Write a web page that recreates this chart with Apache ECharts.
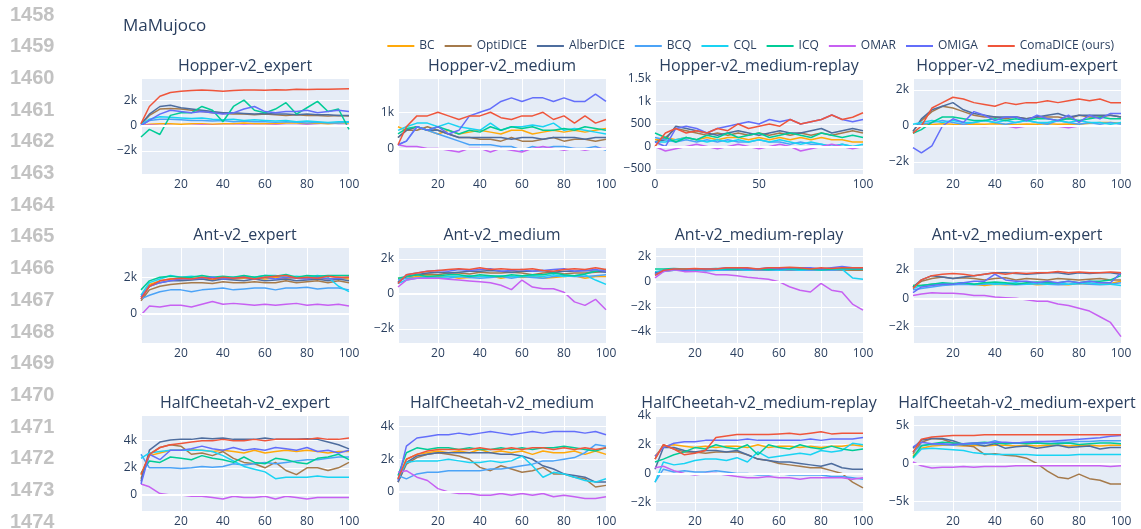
<!DOCTYPE html>
<html><head><meta charset="utf-8">
<script src="https://cdn.jsdelivr.net/npm/echarts@6/dist/echarts.min.js"></script>
<style>html,body{margin:0;padding:0;background:#fff}#c{width:1141px;height:529px}</style>
</head><body><div id="c"></div><script>
// ---------- data ----------
const METHODS = ['BC','OptiDICE','AlberDICE','BCQ','CQL','ICQ','OMAR','OMIGA','ComaDICE (ours)'];
const COLORS = ['#FFA90A','#A57A4B','#4E6D9E','#4BA3F7','#19D3F3','#00CC96','#C760F2','#636EFA','#EF553B'];
const PANEL_TITLES = ['Hopper-v2_expert','Hopper-v2_medium','Hopper-v2_medium-replay','Hopper-v2_medium-expert',
  'Ant-v2_expert','Ant-v2_medium','Ant-v2_medium-replay','Ant-v2_medium-expert',
  'HalfCheetah-v2_expert','HalfCheetah-v2_medium','HalfCheetah-v2_medium-replay','HalfCheetah-v2_medium-expert'];
const LINE_NUMBERS = [1458,1459,1460,1461,1462,1463,1464,1465,1466,1467,1468,1469,1470,1471,1472,1473,1474];
const STEPS = [1,5,10,15,20,25,30,35,40,45,50,55,60,65,70,75,80,85,90,95,100];
const STEPS_FROM0 = [0,5,10,15,20,25,30,35,40,45,50,55,60,65,70,75,80,85,90,95,100];

// rows: BC, OptiDICE, AlberDICE, BCQ, CQL, ICQ, OMAR, OMIGA, ComaDICE
const hopperExpert = [
  [0,100,150,150,100,150,150,100,150,150,200,150,150,150,200,200,150,200,150,200,200],
  [100,800,1300,1350,1300,1200,1100,1000,950,900,900,850,900,850,800,850,800,800,750,800,750],
  [100,900,1500,1600,1400,1300,1200,1100,1000,1000,950,900,950,900,900,850,900,850,850,800,800],
  [0,400,500,500,450,400,400,350,400,300,350,300,300,250,300,250,200,250,200,200,250],
  [50,500,700,650,600,550,600,500,450,500,400,450,400,350,400,300,350,300,250,300,300],
  [-900,-300,-700,800,1000,1000,1500,1200,300,1500,2000,1200,1000,1300,1800,900,1400,1900,1100,1300,-300],
  [0,50,0,0,-50,0,50,0,0,0,50,0,0,50,0,0,50,0,-50,0,0],
  [0,400,900,1200,1100,1000,1100,1000,900,1000,1300,1500,1100,1000,1100,1100,1200,1000,1100,1200,1100],
  [150,1500,2300,2600,2700,2750,2800,2750,2700,2750,2800,2800,2780,2820,2800,2850,2830,2860,2850,2880,2900]
];
const hopperMedium = [
  [600,500,600,500,400,500,400,450,500,450,400,500,500,400,450,500,450,500,450,500,550],
  [300,500,500,600,500,400,300,300,250,250,200,300,200,200,250,300,200,250,250,200,250],
  [300,500,600,500,500,400,300,300,300,300,300,250,300,300,250,300,300,300,250,300,300],
  [100,200,600,500,400,300,200,100,100,100,50,50,-50,50,0,50,50,0,0,50,-50],
  [500,600,700,700,600,700,600,550,500,700,500,600,600,650,600,700,500,550,500,450,400],
  [400,550,600,500,600,500,400,500,450,600,500,600,550,600,500,500,550,500,600,550,500],
  [100,50,50,0,0,-50,-100,0,0,-100,0,-50,-100,0,50,0,-50,0,-50,0,0],
  [100,200,600,500,600,400,500,900,1000,1100,1300,1400,1300,1400,1400,1300,1400,1300,1300,1500,1300],
  [100,600,900,900,1000,900,800,900,900,1000,850,800,900,900,1000,800,900,700,900,700,800]
];
const hopperReplay = [
  [150,200,150,200,150,200,150,200,200,150,200,150,200,150,200,150,200,150,150,100,100],
  [100,200,400,350,300,250,300,250,300,250,300,250,300,250,300,250,300,250,300,350,300],
  [100,150,450,400,350,300,250,300,350,300,250,300,350,300,300,350,400,300,350,400,350],
  [200,150,100,150,100,150,100,150,100,100,150,100,100,50,100,50,50,0,50,0,0],
  [100,100,150,200,150,100,150,100,150,100,150,100,150,100,50,100,50,0,50,0,50],
  [300,200,100,200,150,250,200,300,200,250,300,200,250,300,250,200,300,250,200,250,200],
  [0,-100,-50,0,50,0,-50,0,50,0,-50,0,50,0,-100,-50,0,50,0,-50,0],
  [100,0,400,450,400,300,400,450,500,550,500,600,550,600,500,550,600,700,600,550,600],
  [0,300,400,300,350,300,400,350,500,400,450,500,450,600,500,550,600,700,600,650,750]
];
const hopperMedExp = [
  [0,100,80,120,100,90,110,100,120,100,90,110,100,120,100,110,100,150,200,200,150],
  [-300,300,800,1100,1000,800,600,500,500,400,500,400,500,500,500,400,600,500,500,600,500],
  [-300,400,900,1100,1300,900,700,600,500,500,500,400,500,600,700,500,600,600,600,600,500],
  [0,100,200,300,200,100,200,300,200,100,200,300,200,100,300,200,100,200,100,200,100],
  [100,200,300,200,300,200,200,300,200,300,200,300,200,200,300,200,300,200,200,100,200],
  [-400,-200,200,500,500,400,300,300,400,300,400,300,400,400,300,400,300,400,500,400,400],
  [0,20,0,-20,0,30,0,-30,0,20,-100,0,20,0,-20,-100,0,20,0,-20,0],
  [-1200,-1500,-1100,0,400,200,800,600,300,500,500,300,600,400,300,600,200,600,400,700,700],
  [-400,0,1000,1300,1600,1500,1300,1200,1100,1300,1200,1300,1300,1400,1300,1400,1500,1400,1500,1300,1300]
];
const antExpert = [
  [900,1600,1800,1900,1900,1950,1900,1850,2000,1900,1950,2000,1900,2000,1900,2000,1900,1950,1900,2000,1900],
  [700,1300,1500,1600,1650,1700,1700,1650,1750,1700,1700,1750,1700,1700,1800,1700,1750,1800,1700,1800,1700],
  [800,1500,1700,1800,1800,1850,1900,1800,1900,1850,1800,1900,1800,1850,1900,1800,1850,1900,1800,1900,1800],
  [800,1000,1200,1300,1300,1200,1300,1350,1400,1300,1350,1400,1400,1300,1400,1400,1450,1350,1400,1400,1300],
  [1000,1700,1900,2100,2000,2050,2000,2000,1950,2000,2050,2000,2100,2100,2000,2050,2000,2100,2000,1500,1200],
  [1300,1800,2000,2050,2000,2000,2100,2000,2050,2000,2100,2000,2100,2050,2150,2000,2100,2050,2100,2100,2100],
  [-100,400,350,450,450,350,500,650,500,550,500,450,500,450,500,550,450,500,450,500,400],
  [900,1500,1700,1800,1900,1900,1950,2000,1900,1950,2000,1900,2000,1900,2000,1950,1900,2000,1900,1950,2000],
  [800,1500,1800,1900,1950,1900,2000,1900,2000,1950,2000,1900,2000,2050,2100,1950,2000,1950,2050,2000,2000]
];
const antMedium = [
  [900,900,1000,1050,1000,1000,900,950,1000,1050,900,1000,950,1000,900,950,1000,1050,900,1000,1000],
  [700,1000,1100,1150,1100,1200,1200,1150,1250,1200,1200,1250,1200,1100,1200,1250,1150,1200,1200,1250,1300],
  [700,1000,1100,1200,1250,1200,1250,1300,1300,1350,1300,1250,1300,1300,1350,1250,1300,1300,1350,1300,1250],
  [800,900,900,950,900,900,1000,950,900,950,1000,900,1000,950,900,1000,1050,1000,1000,1050,1100],
  [600,800,900,1000,950,1000,1000,1050,1000,1000,1050,1000,1000,1050,1000,1100,1000,1050,1100,800,550],
  [900,1000,1100,1000,1050,1100,1100,1000,1100,1050,1000,1100,1050,1100,1100,1200,1100,1050,1150,1300,1400],
  [400,800,900,900,900,850,800,750,700,650,500,250,800,400,300,300,100,-450,-650,-300,-900],
  [600,1100,1200,1300,1350,1300,1400,1350,1400,1450,1300,1350,1400,1300,1350,1400,1450,1300,1350,1400,1300],
  [600,1100,1200,1300,1350,1400,1450,1400,1500,1400,1450,1400,1400,1450,1350,1300,1400,1450,1400,1500,1400]
];
const antReplay = [
  [700,900,950,950,900,950,900,950,950,900,950,900,950,900,950,900,900,950,900,900,900],
  [600,850,900,900,950,900,900,950,900,950,900,900,950,900,900,950,900,900,950,900,900],
  [700,900,1000,950,1000,1000,950,1000,1050,1000,1000,1050,1000,1000,1050,1000,1000,1050,1000,1000,1000],
  [500,800,900,900,900,850,900,900,950,900,950,900,900,950,900,900,950,900,950,1000,1000],
  [800,900,900,1000,900,1000,900,1000,1000,900,1000,1000,900,1000,900,1000,900,1000,1000,300,200],
  [1000,1000,1050,1000,950,1000,1050,1000,1000,1050,1000,950,1000,1050,1000,1000,950,1000,1050,1000,1000],
  [300,800,950,800,820,740,550,550,470,360,270,200,0,-400,-680,-820,-140,-680,-820,-1780,-2270],
  [600,900,1000,900,1000,1000,1000,1100,1100,1000,1000,1100,1000,1100,1100,1100,1000,1100,1200,1100,1100],
  [500,900,1000,1000,1050,1000,1000,1100,1100,1100,1000,1100,1100,1150,1100,1000,1100,1050,1100,1100,1100]
];
const antMedExp = [
  [900,900,1000,950,1000,1050,1000,900,1000,950,1000,1050,950,1000,1000,950,1050,1000,1000,1050,1200],
  [800,1200,1400,1500,1400,1450,1400,1300,1400,1450,1300,1400,1350,1300,1400,1350,1300,1350,1400,1300,1300],
  [800,1300,1600,1500,1400,1500,1600,1700,1800,1800,1750,1700,1750,1800,1800,1700,1800,1750,1800,1800,1700],
  [600,700,800,900,950,1000,950,1000,1050,1000,950,1000,1050,1000,950,1000,1050,1000,950,1000,1100],
  [700,900,1000,1050,1000,1100,1000,1100,1000,1050,1100,1000,1050,1000,1100,1000,1050,1100,1000,1000,900],
  [900,900,1000,1100,1050,1100,1000,1100,1150,1100,1000,1100,1150,1100,1100,1200,1100,1200,1200,1300,1600],
  [200,300,400,350,350,300,200,200,100,50,0,-100,-200,-200,-400,-500,-700,-900,-1300,-1700,-2700],
  [400,800,900,1000,1000,1100,1200,1200,1700,1300,1200,1200,1100,1200,1100,1200,1100,1200,1100,1100,1800],
  [700,1300,1600,1700,1750,1700,1600,1700,1800,1700,1800,1750,1800,1800,1900,1800,1850,1800,1800,1850,1800]
];
const hcExpert = [
  [1500,2900,3100,3300,3300,3350,3300,3200,3300,3200,3100,3300,3100,3200,3300,3200,3300,3200,3100,3200,3200],
  [1200,3000,3500,3700,3600,3000,3100,2900,3200,2700,2400,2300,2000,2400,1800,1500,2000,2000,1800,2000,2400],
  [1000,3300,3900,4050,4100,4100,4200,4150,4200,4100,4100,4100,4200,4100,4100,4100,4150,4100,3900,3700,3400],
  [3000,2000,2000,2000,1950,2000,2100,2050,2100,2300,2200,2300,2400,2300,2400,2500,2600,2600,2700,2800,2800],
  [2700,3100,3200,3300,3300,3300,3300,3200,2900,2500,2100,1900,1700,1200,1300,1300,1300,1400,1300,1300,1300],
  [1600,2500,2400,2800,2700,2600,2900,2700,2600,2400,2800,2400,2300,2700,2600,2400,2300,2700,2800,3000,2600],
  [800,600,100,0,0,-100,-100,-200,-300,-100,-200,-200,-100,-300,-100,-200,-300,-200,-200,-200,-200],
  [800,3000,2600,3300,3300,3400,3600,3400,3300,3500,3300,3400,3300,3500,3400,3300,3500,3200,3300,3100,3300],
  [1500,3000,3500,3700,3800,3900,4000,4000,4100,4000,4000,4100,4000,4100,4100,4100,4100,4200,4100,4100,4200]
];
const hcMedium = [
  [800,2000,2300,2400,2500,2400,2500,2400,2600,2400,2500,2400,2500,2300,2500,2400,2400,2500,2300,2500,2300],
  [600,1700,2100,2300,2400,2300,2200,2000,1500,1300,1600,1400,1200,1300,1500,1100,1100,900,800,300,400],
  [600,1800,2200,2300,2400,2400,2400,2400,2400,2400,2300,2300,2200,2000,1600,1400,1100,1000,900,600,600],
  [1000,800,1100,1200,1200,1300,1300,1300,1300,1400,1400,1500,1600,1700,1900,1900,2000,2100,2400,2900,2800],
  [800,1800,1900,1900,1900,2000,1900,1800,1800,1900,1800,1900,2200,1600,900,1200,1100,900,700,600,800],
  [1000,2400,2700,2600,2700,2700,2600,2700,2600,2600,2700,2600,2700,2600,2700,2700,2800,2700,2600,2500,2700],
  [1200,1300,900,700,200,0,-100,-100,-200,-200,-100,-200,-100,-200,-100,-300,-200,-300,-400,-400,-300],
  [700,2800,3300,3400,3500,3500,3600,3500,3600,3700,3600,3500,3600,3700,3600,3700,3700,3700,3600,3700,3500],
  [800,2000,2300,2500,2600,2600,2600,2600,2700,2600,2600,2700,2600,2700,2700,2600,2700,2600,2700,2600,2700]
];
const hcReplay = [
  [1200,1900,2000,1900,1800,1900,1800,1900,1900,1800,2000,1800,1900,1900,1800,1900,1800,1900,1900,2000,1900],
  [1000,2000,1700,1500,1500,1400,1500,1500,1500,1300,1000,900,700,600,500,400,400,200,0,-600,-1000],
  [300,1800,1800,1600,1500,1600,1600,1500,1600,1300,1000,900,800,800,700,600,500,700,400,300,300],
  [-600,300,100,200,100,100,200,100,0,0,-100,-100,0,-100,-100,-100,-100,-200,-200,-300,-400],
  [-600,800,600,700,900,1000,1000,900,1100,800,1500,1100,1200,1300,1400,1300,1600,1500,1600,2100,2000],
  [800,1000,1300,1500,1800,1700,2000,1800,1700,2000,1300,2000,1800,1700,2000,1800,1700,1900,1700,1600,1700],
  [400,500,200,0,-100,0,0,-100,-200,-300,-300,-200,-300,-300,-400,-300,-300,-300,-300,-400,-300],
  [1200,1800,2100,2200,2200,2300,2300,2300,2300,2400,2300,2300,2300,2300,2300,2400,2300,2400,2400,2400,2500],
  [1000,2000,1700,1300,1400,1600,2500,2600,2700,2700,2700,2700,2750,2800,2700,2800,2900,2750,2800,2800,2800]
];
const hcMedExp = [
  [1000,2000,2300,2400,2400,2300,2400,2300,2400,2400,2300,2400,2300,2400,2400,2300,2400,2400,2300,2400,2400],
  [1300,2800,3300,3200,2700,2400,2200,1200,1300,1100,1000,700,0,-1000,-1800,-2000,-1400,-2000,-2200,-2700,-2700],
  [2000,3100,3300,3300,3000,2500,2600,2300,2600,2000,2200,2300,2000,2200,2400,2100,2200,2300,1900,2100,2100],
  [1500,2400,2500,2500,2400,2500,2600,2600,3000,2600,2700,2800,2800,2900,2800,2800,2900,2900,3000,3000,3000],
  [700,1900,2000,1900,1800,1700,1400,1300,1200,1200,1200,1200,1100,1100,1100,1100,1200,1200,1200,1200,1200],
  [800,2300,2600,2800,2700,2600,2700,2800,2700,2600,2700,2600,2700,2600,2600,2700,2500,2600,2700,2700,2600],
  [200,-300,-600,-500,-500,-400,-500,-400,-400,-400,-300,-300,-300,-300,-300,-300,-300,-300,-300,-400,-300],
  [2200,2800,2600,2600,2500,2600,2700,2700,2800,2800,2700,2800,2900,2900,3000,3100,3200,3300,3400,3600,3700],
  [1500,3200,3500,3600,3700,3700,3700,3800,3800,3800,3800,3800,3800,3800,3800,3800,3800,3800,3800,3800,3800]
];

// ---------- panels (axis ranges) ----------
const PANELS = [
  {d: hopperExpert, xs: STEPS, xmin: 1, xint: 20, ymin: -3810, ymax: 3740, yint: 2000},
  {d: hopperMedium, xs: STEPS, xmin: 1, xint: 20, ymin: -710, ymax: 1950, yint: 1000},
  {d: hopperReplay, xs: STEPS_FROM0, xmin: 0, xint: 50, ymin: -610, ymax: 1520, yint: 500},
  {d: hopperMedExp, xs: STEPS, xmin: 1, xint: 20, ymin: -2670, ymax: 2670, yint: 2000},
  {d: antExpert, xs: STEPS, xmin: 1, xint: 20, ymin: -1650, ymax: 3680, yint: 2000},
  {d: antMedium, xs: STEPS, xmin: 1, xint: 20, ymin: -2800, ymax: 2690, yint: 2000},
  {d: antReplay, xs: STEPS, xmin: 1, xint: 20, ymin: -4880, ymax: 2760, yint: 2000},
  {d: antMedExp, xs: STEPS, xmin: 1, xint: 20, ymin: -3150, ymax: 3620, yint: 2000},
  {d: hcExpert, xs: STEPS, xmin: 1, xint: 20, ymin: -1190, ymax: 5900, yint: 2000},
  {d: hcMedium, xs: STEPS, xmin: 1, xint: 20, ymin: -1170, ymax: 4710, yint: 2000},
  {d: hcReplay, xs: STEPS, xmin: 1, xint: 20, ymin: -2600, ymax: 4060, yint: 2000},
  {d: hcMedExp, xs: STEPS, xmin: 1, xint: 20, ymin: -6260, ymax: 6390, yint: 5000}
];

// ---------- layout ----------
const COL_LEFT = [141, 398, 655, 913];
const ROW_TOP = [78, 247, 415];
const PW = 208, PH = 96;
const FONT = "'Open Sans', sans-serif";
const TXT = '#2a3f5f';

function fmt(v) {
  let s = Math.abs(v) >= 1000 ? (v / 1000) + 'k' : String(v);
  return s.replace('-', '\u2212');
}

const grids = [], xAxes = [], yAxes = [], series = [], graphics = [];
PANELS.forEach((p, i) => {
  const r = Math.floor(i / 4), c = i % 4;
  grids.push({left: COL_LEFT[c], top: ROW_TOP[r], width: PW, height: PH, show: true,
    backgroundColor: '#E5ECF6', borderWidth: 0});
  xAxes.push({gridIndex: i, type: 'value', min: p.xmin, max: 100, minInterval: p.xint, maxInterval: p.xint,
    axisLine: {show: false}, axisTick: {show: false},
    splitLine: {show: true, lineStyle: {color: '#ffffff', width: 1}},
    axisLabel: {color: TXT, fontSize: 12, fontFamily: FONT, margin: 5, showMinLabel: p.xmin === 0, showMaxLabel: true}});
  yAxes.push({gridIndex: i, type: 'value', min: p.ymin, max: p.ymax, minInterval: p.yint, maxInterval: p.yint,
    axisLine: {show: false}, axisTick: {show: false},
    splitLine: {show: true, lineStyle: {color: '#ffffff', width: 1}},
    axisLabel: {color: TXT, fontSize: 12, fontFamily: FONT, margin: 4, showMinLabel: false, showMaxLabel: false, formatter: fmt}});
  graphics.push({type: 'text', style: {text: PANEL_TITLES[i], x: COL_LEFT[c] + PW / 2, y: ROW_TOP[r] - 12,
    fill: TXT, font: "16px 'Open Sans'", align: 'center', verticalAlign: 'middle'}});
  METHODS.forEach((m, j) => {
    const s = {type: 'line', name: m, xAxisIndex: i, yAxisIndex: i,
      data: p.xs.map((x, k) => [x, p.d[j][k]]),
      showSymbol: false, symbol: 'none', animation: false, silent: true,
      lineStyle: {width: 1.5, color: COLORS[j]}, itemStyle: {color: COLORS[j]}};
    if (j === 0) {
      s.markLine = {silent: true, symbol: 'none', animation: false, label: {show: false},
        lineStyle: {color: '#ffffff', width: 2, type: 'solid'}, data: [{yAxis: 0}]};
    }
    series.push(s);
  });
});

graphics.push({type: 'text', style: {text: 'MaMujoco', x: 123, y: 26, fill: TXT,
  font: "17px 'Open Sans'", align: 'left', verticalAlign: 'middle'}});
LINE_NUMBERS.forEach((n, k) => {
  graphics.push({type: 'text', style: {text: String(n), x: 10, y: 15 + k * 31.7, fill: '#c2c2c2',
    font: "bold 20px 'Liberation Sans'", align: 'left', verticalAlign: 'middle'}});
});

const chart = echarts.init(document.getElementById('c'), null, {renderer: 'canvas'});
chart.setOption({
  animation: false,
  backgroundColor: '#ffffff',
  grid: grids, xAxis: xAxes, yAxis: yAxes, series: series,
  legend: {data: METHODS, right: 22, top: 35, icon: 'rect', itemWidth: 27, itemHeight: 2, itemGap: 10,
    textStyle: {color: TXT, fontSize: 12, fontFamily: FONT}, selectedMode: false},
  graphic: graphics
});
</script></body></html>
